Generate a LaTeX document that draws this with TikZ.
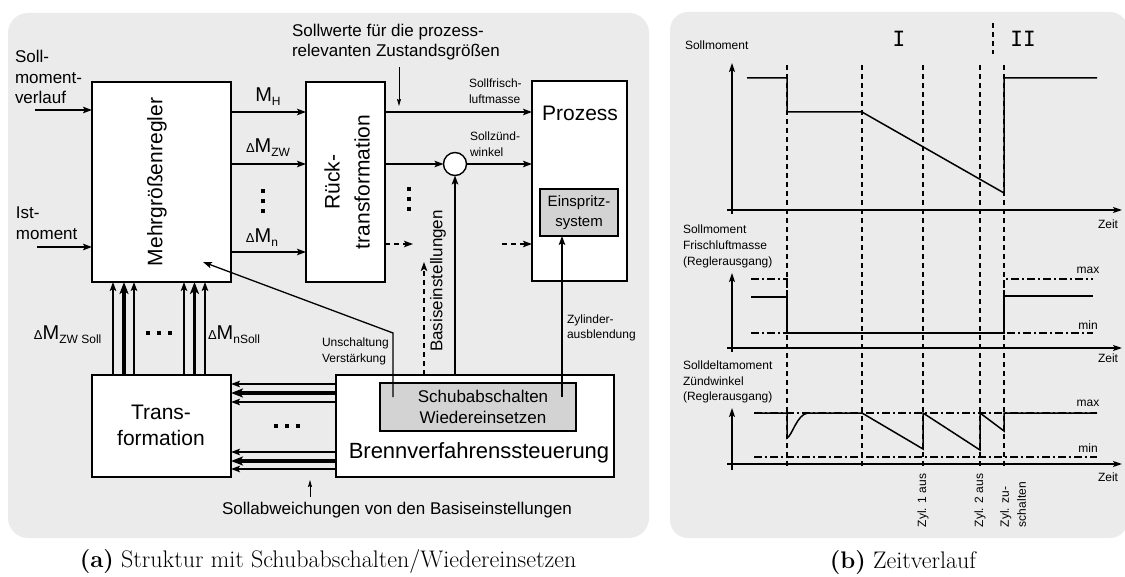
\documentclass[tikz,border=0pt]{standalone}
\usepackage{fontspec}
\newfontfamily\dgfont{Liberation Sans}
\newfontfamily\monofont{DejaVu Sans Mono}
\usetikzlibrary{arrows.meta}
\definecolor{panelbg}{RGB}{235,235,235}
\definecolor{boxgray}{RGB}{211,211,211}
\newcommand\fsb[2]{\fontsize{#1}{#2}\selectfont}
\newcommand\tri{{\fsb{13}{13}Δ}}
\newcommand\subt[1]{\raisebox{-4pt}{\fsb{12}{12}#1}}
\begin{document}
\begin{tikzpicture}[x=1pt,y=-1pt,
  every node/.style={font=\dgfont, inner sep=0pt, outer sep=0pt},
  box/.style={draw, line width=1.5pt, fill=white},
  gbox/.style={draw, line width=1.5pt, fill=boxgray},
  arr/.style={line width=1.5pt, -{Stealth[length=9pt,width=6.5pt,inset=2pt]}},
  tarr/.style={line width=3.4pt, -{Stealth[length=12pt,width=9pt,inset=3pt]}},
  darr/.style={line width=1.4pt, dash pattern=on 5pt off 4pt, -{Stealth[length=9pt,width=6.5pt,inset=2pt]}},
  tharr/.style={line width=0.8pt, -{Stealth[length=7pt,width=4pt,inset=1pt]}},
  bigtxt/.style={font=\dgfont\fsb{21}{26}, align=center},
  midtxt/.style={font=\dgfont\fsb{17}{20.5}, align=left},
  smtxt/.style={font=\dgfont\fsb{12}{16}, align=left},
  mlbl/.style={font=\dgfont\fsb{20}{20}},
  vdash/.style={line width=1.3pt, dash pattern=on 5pt off 4pt},
  dashdot/.style={line width=1.3pt, dash pattern=on 8pt off 3pt on 2pt off 3pt},
  sig/.style={line width=1.5pt},
  axis/.style={line width=1.5pt, -{Stealth[length=9pt,width=6pt,inset=2pt]}},
  dotsq/.style={fill=black, minimum size=4.5pt}
]
\useasboundingbox (0,0) rectangle (1125,577);
\clip (0,0) rectangle (1125,577);
% panels
\fill[panelbg, rounded corners=20pt] (8,13) rectangle (649,538);
\fill[panelbg, rounded corners=18pt] (670,12) rectangle (1128,538);

% ---------------- left panel ----------------
\node[box, minimum width=139, minimum height=200] (mr) at (161.5,182) {};
\node[bigtxt, rotate=90] (mrt) at (157,182) {Mehrgrößenregler};
\node[box, minimum width=79, minimum height=200] (rt) at (345.5,182) {};
\node[bigtxt, rotate=90, font=\dgfont\fsb{21}{30}] (rtt) at (347,182) {Rück-\\transformation};
\node[box, minimum width=95, minimum height=200] (pr) at (579.5,181) {};
\node[bigtxt] (prt) at (580,113) {Prozess};
\node[gbox, minimum width=78, minimum height=47, font=\dgfont\fsb{15}{20}, align=center] (ein) at (579,212.5) {Einspritz-\\system};
\node[draw, line width=1.4pt, fill=white, circle, minimum size=23pt] (sum) at (455,164) {};

\node[box, minimum width=139, minimum height=102] (tr) at (161.5,426) {};
\node[bigtxt] (trt) at (161,425) {Trans-\\formation};
\node[box, minimum width=278, minimum height=102] (br) at (475,426) {};
\node[gbox, minimum width=196, minimum height=48] (sb) at (478,407) {};
\node[midtxt, align=center] (sbt) at (483,407) {Schubabschalten\\Wiedereinsetzen};
\node[font=\dgfont\fsb{22}{22}] (brt) at (479,453) {Brennverfahrenssteuerung};

% inputs
\node[midtxt, anchor=west] (sollt) at (15,77) {Soll-\\moment-\\verlauf};
\node[midtxt, anchor=west] (istt) at (16,223) {Ist-\\moment};
\coordinate (in1) at (35,110);
\coordinate (in2) at (37,247);
\draw[arr] (in1) -- (in1 -| mr.west);
\draw[arr] (in2) -- (in2 -| mr.west);

% controller outputs
\coordinate (yH) at (0,112);
\coordinate (yZ) at (0,164);
\coordinate (yN) at (0,252);
\coordinate (yD) at (0,244);
\draw[arr] (mr.east |- yH) -- (rt.west |- yH);
\draw[arr] (mr.east |- yZ) -- (rt.west |- yZ);
\draw[arr] (mr.east |- yN) -- (rt.west |- yN);
\node[mlbl] (lMH) at (268,97) {M\subt{H}};
\node[mlbl] (lMZ) at (268,148) {\tri M\subt{ZW}};
\node[mlbl] (lMN) at (262,238) {\tri M\subt{n}};
\node[dotsq] (d1) at (263,191) {};
\node[dotsq] (d2) at (263,201) {};
\node[dotsq] (d3) at (263,211) {};

% right of Ruecktransformation
\draw[arr] (rt.east |- yH) -- (pr.west |- yH);
\draw[arr] (rt.east |- yZ) -- (sum.west);
\draw[arr] (sum.east) -- (sum.east -| pr.west);
\coordinate (dA) at (413,244);
\coordinate (dB) at (502,244);
\draw[darr] (rt.east |- yD) -- (dA);
\draw[darr] (dB) -- (dB -| pr.west);
\node[dotsq] (d4) at (409,189) {};
\node[dotsq] (d5) at (409,199) {};
\node[dotsq] (d6) at (409,209) {};
\node[smtxt, anchor=west] (sfl) at (469,91) {Sollfrisch-\\luftmasse};
\node[smtxt, anchor=west] (szw) at (470,144) {Sollzünd-\\winkel};
\node[midtxt, anchor=west] (sollw) at (292,42) {Sollwerte für die prozess-\\relevanten Zustandsgrößen};
\coordinate (sw1) at (399,67);
\coordinate (sw2) at (399,106);
\draw[tharr] (sw1) -- (sw2);

% Basiseinstellungen
\coordinate (bx) at (424,262);
\draw[darr] (bx |- br.north) -- (bx);
\draw[arr] (sum.south |- br.north) -- (sum.south);
\node[midtxt, rotate=90] (bst) at (438,281) {Basiseinstellungen};

% Zylinderausblendung
\coordinate (zy) at (562,397);
\draw[arr] (zy) -- (zy |- ein.south);
\node[smtxt, font=\dgfont\fsb{12}{15}, anchor=west] (zyt) at (567,327.5) {Zylinder-\\ausblendung};

% Unschaltung Verstaerkung
\coordinate (us1) at (393,397);
\coordinate (us2) at (393,333);
\coordinate (us3) at (203,262);
\draw[line width=1.3pt, -{Stealth[length=9pt,width=6.5pt,inset=2pt]}] (us1) -- (us2) -- (us3);
\node[smtxt, anchor=west] (ust) at (322,351) {Unschaltung\\Verstärkung};

% Transformation -> Mehrgroessenregler
\foreach \xx/\st in {113/arr,124/tarr,134/arr,184/arr,194.5/tarr,205/arr}{
  \draw[\st] (\xx,375) -- (\xx,282);
}
\node[mlbl, anchor=west] (lZS) at (34,335) {\tri M\subt{ZW Soll}};
\node[mlbl, anchor=west] (lNS) at (208,335) {\tri M\subt{nSoll}};
\node[dotsq] (d7) at (148,333) {};
\node[dotsq] (d8) at (159,333) {};
\node[dotsq] (d9) at (170,333) {};

% Brennverfahrenssteuerung -> Transformation
\foreach \yy/\st in {384/arr,393/tarr,402/arr,452/arr,461/tarr,469/arr}{
  \draw[\st] (br.west |- 0,\yy) -- (tr.east |- 0,\yy);
}
\node[dotsq] (d10) at (276,426) {};
\node[dotsq] (d11) at (287,426) {};
\node[dotsq] (d12) at (298,426) {};

\coordinate (sa1) at (310,497);
\coordinate (sa2) at (310,480);
\draw[tharr] (sa1) -- (sa2);
\node[midtxt] (sat) at (397,510) {Sollabweichungen von den Basiseinstellungen};

% ---------------- right panel ----------------
\node[font=\monofont\fsb{21}{21}] (pI) at (899,39) {I};
\node[font=\monofont\fsb{21}{21}] (pII) at (1023,39) {II};
\draw[vdash] (993,23) -- (993,54);
\foreach \xx in {787,862,923,980,1004}{
  \draw[vdash] (\xx,65) -- (\xx,467);
}
% plot 1
\draw[axis] (732,214) -- (732,63);
\draw[axis] (727,210) -- (1122,210);
\node[smtxt] (z1) at (1108,224) {Zeit};
\node[smtxt, anchor=west] (ya1) at (685,45) {Sollmoment};
\draw[sig] (747,78) -- (787,78) -- (787,112) -- (862,112) -- (1004,193) -- (1004,78) -- (1097,78);

% plot 2
\draw[axis] (732,352) -- (732,273);
\draw[axis] (727,348) -- (1122,348);
\node[smtxt] (z2) at (1108,358) {Zeit};
\node[smtxt, anchor=west] (ya2) at (683,246) {Sollmoment\\Frischluftmasse\\(Reglerausgang)};
\draw[dashdot] (751,279) -- (787,279) -- (787,333) -- (1004,333) -- (1004,279) -- (1093,279);
\draw[dashdot] (751,333) -- (1093,333);
\draw[sig] (751,297) -- (787,297) -- (787,333) -- (1004,333) -- (1004,296) -- (1093,296);
\node[smtxt] (mx2) at (1088,270) {max};
\node[smtxt] (mn2) at (1088,325) {min};

% plot 3
\draw[axis] (732,470) -- (732,408);
\draw[axis] (727,464) -- (1122,464);
\node[smtxt] (z3) at (1108,477) {Zeit};
\node[smtxt, anchor=west, font=\dgfont\fsb{12}{15.5}] (ya3) at (683,382) {Solldeltamoment\\Zündwinkel\\(Reglerausgang)};
\draw[dashdot] (754,413) -- (1097,413);
\draw[dashdot] (754,457) -- (1097,457);
\draw[sig] (754,413) -- (787,413) -- (787,438) .. controls (792,436) and (797,414) .. (808,413)
  -- (862,413) -- (923,449) -- (923,413) -- (980,450) -- (980,413) -- (1004,431) -- (1004,413) -- (1097,413);
\node[smtxt] (mx3) at (1088,403) {max};
\node[smtxt] (mn3) at (1088,448) {min};
\node[smtxt, rotate=90, anchor=west] (zl1) at (923,527) {Zyl. 1 aus};
\node[smtxt, rotate=90, anchor=west] (zl2) at (980,527) {Zyl. 2 aus};
\node[smtxt, rotate=90, anchor=west, font=\dgfont\fsb{12}{17}] (zl3) at (1013,527) {Zyl. zu-\\schalten};

% captions
\node[font=\rmfamily\fsb{24}{28}] (capa) at (328,562) {\textbf{(a)} Struktur mit Schubabschalten/Wiedereinsetzen};
\node[font=\rmfamily\fsb{24}{28}] (capb) at (903,563) {\textbf{(b)} Zeitverlauf};
\end{tikzpicture}
\end{document}
